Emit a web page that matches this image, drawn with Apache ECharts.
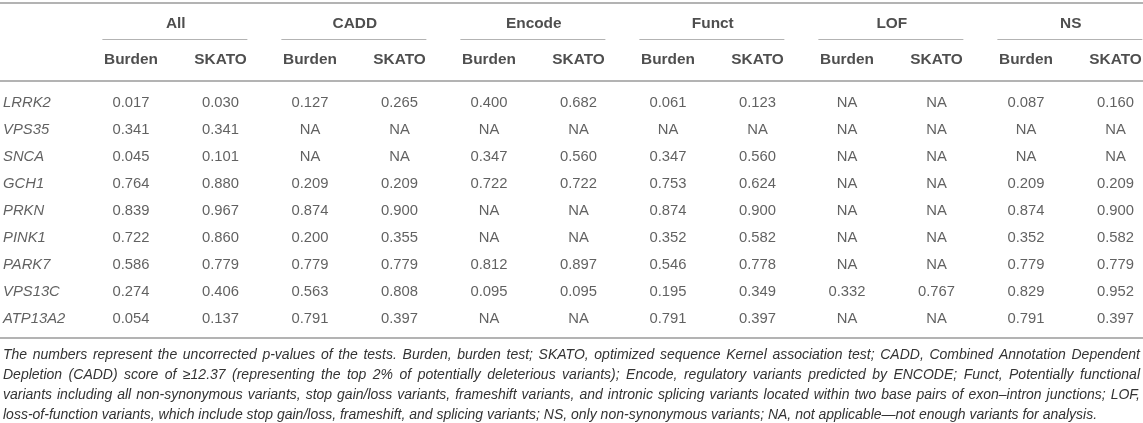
<!DOCTYPE html>
<html>
<head>
<meta charset="utf-8">
<script src="https://cdn.jsdelivr.net/npm/echarts@6/dist/echarts.min.js"></script>
<style>
    html, body { margin: 0; padding: 0; background: #fff; }
    #table { width: 1143px; height: 423px; }
</style>
</head>
<body>
<div id="table"></div>
<script>
// table content
const groups = ['All', 'CADD', 'Encode', 'Funct', 'LOF', 'NS'];
const tests = ['Burden', 'SKATO'];
const genes = ['LRRK2', 'VPS35', 'SNCA', 'GCH1', 'PRKN', 'PINK1', 'PARK7', 'VPS13C', 'ATP13A2'];

// p-values per gene, columns: All B/S, CADD B/S, Encode B/S, Funct B/S, LOF B/S, NS B/S (null = NA)
const LRRK2 = [0.017, 0.030, 0.127, 0.265, 0.400, 0.682, 0.061, 0.123, null, null, 0.087, 0.160];
const VPS35 = [0.341, 0.341, null, null, null, null, null, null, null, null, null, null];
const SNCA = [0.045, 0.101, null, null, 0.347, 0.560, 0.347, 0.560, null, null, null, null];
const GCH1 = [0.764, 0.880, 0.209, 0.209, 0.722, 0.722, 0.753, 0.624, null, null, 0.209, 0.209];
const PRKN = [0.839, 0.967, 0.874, 0.900, null, null, 0.874, 0.900, null, null, 0.874, 0.900];
const PINK1 = [0.722, 0.860, 0.200, 0.355, null, null, 0.352, 0.582, null, null, 0.352, 0.582];
const PARK7 = [0.586, 0.779, 0.779, 0.779, 0.812, 0.897, 0.546, 0.778, null, null, 0.779, 0.779];
const VPS13C = [0.274, 0.406, 0.563, 0.808, 0.095, 0.095, 0.195, 0.349, 0.332, 0.767, 0.829, 0.952];
const ATP13A2 = [0.054, 0.137, 0.791, 0.397, null, null, 0.791, 0.397, null, null, 0.791, 0.397];
const pValues = [LRRK2, VPS35, SNCA, GCH1, PRKN, PINK1, PARK7, VPS13C, ATP13A2];

const noteLines = [
    'The numbers represent the uncorrected p-values of the tests. Burden, burden test; SKATO, optimized sequence Kernel association test; CADD, Combined Annotation Dependent',
    'Depletion (CADD) score of \u226512.37 (representing the top 2% of potentially deleterious variants); Encode, regulatory variants predicted by ENCODE; Funct, Potentially functional',
    'variants including all non-synonymous variants, stop gain/loss variants, frameshift variants, and intronic splicing variants located within two base pairs of exon\u2013intron junctions; LOF,',
    'loss-of-function variants, which include stop gain/loss, frameshift, and splicing variants; NS, only non-synonymous variants; NA, not applicable\u2014not enough variants for analysis.'
];

// layout in axis units (x: one unit per test column, y: one unit per gene row)
const FONT = '"Liberation Sans", Arial, sans-serif';
const X_MIN = -1.464, X_MAX = 11.307;
const Y_MIN = -3.815, Y_MAX = 11.852;
const GENE_X = -1.43;
const ROW_GROUP = -2.93, ROW_TEST = -1.59;
const RULE_TOP = -3.70, RULE_HEAD = -0.815, RULE_LINE = -2.35, RULE_BOTTOM = 8.70;

function drawTable() {
    let chart = echarts.init(document.getElementById('table'));

    let cells = [];
    pValues.forEach((row, r) => {
        row.forEach((v, c) => {
            cells.push({value: [c, r], label: {formatter: v === null ? 'NA' : v.toFixed(3)}});
        });
    });
    let geneCells = genes.map((g, r) => ({value: [GENE_X, r], label: {formatter: g}}));
    let groupCells = groups.map((g, i) => ({value: [i * 2 + 0.5, ROW_GROUP], label: {formatter: g}}));
    let testCells = [];
    groups.forEach((g, i) => {
        tests.forEach((t, j) => {
            testCells.push({value: [i * 2 + j, ROW_TEST], label: {formatter: t}});
        });
    });

    let rules = [RULE_TOP, RULE_HEAD, RULE_BOTTOM].map(y => ({coords: [[X_MIN, y], [X_MAX, y]]}));
    let underlines = groups.map((g, i) => ({coords: [[i * 2 - 0.32, RULE_LINE], [i * 2 + 1.3, RULE_LINE]]}));

    let textSeries = (name, data, style) => ({
        name: name,
        type: 'scatter',
        symbolSize: 0,
        silent: true,
        data: data,
        label: Object.assign({
            show: true,
            position: 'inside',
            fontFamily: FONT,
            fontSize: 14.8,
            color: '#3a3a3a'
        }, style)
    });

    let option = {
        animation: false,
        grid: {left: 0, right: 0, top: 0, bottom: 0},
        xAxis: {type: 'value', min: X_MIN, max: X_MAX, show: false},
        yAxis: {type: 'value', min: Y_MIN, max: Y_MAX, inverse: true, show: false},
        series: [
            {
                type: 'lines',
                coordinateSystem: 'cartesian2d',
                silent: true,
                data: rules,
                lineStyle: {color: '#b3b3b3', width: 2, opacity: 1}
            },
            {
                type: 'lines',
                coordinateSystem: 'cartesian2d',
                silent: true,
                data: underlines,
                lineStyle: {color: '#b3b3b3', width: 1, opacity: 1}
            },
            textSeries('values', cells, {}),
            textSeries('genes', geneCells, {position: 'right', distance: 0, fontStyle: 'italic'}),
            textSeries('groups', groupCells, {fontWeight: 'bold', fontSize: 15.4, color: '#222'}),
            textSeries('tests', testCells, {fontWeight: 'bold', fontSize: 15.4, color: '#222'})
        ],
        graphic: justifiedNote()
    };
    chart.setOption(option);
}

// footnote is justified like the printed table, so words are placed one by one
function justifiedNote() {
    let font = 'italic 14px ' + FONT;
    let ctx = document.createElement('canvas').getContext('2d');
    ctx.font = font;
    let left = 3, right = 1140, top = 355, step = 20;
    let items = [];
    noteLines.forEach((line, i) => {
        let words = line.split(' ');
        let widths = words.map(w => ctx.measureText(w).width);
        let total = widths.reduce((a, b) => a + b, 0);
        let last = i === noteLines.length - 1;
        let gap = last ? ctx.measureText(' ').width : (right - left - total) / (words.length - 1);
        let x = left;
        words.forEach((w, k) => {
            items.push({
                type: 'text',
                x: x,
                y: top + i * step,
                silent: true,
                style: {text: w, font: font, fill: '#333', verticalAlign: 'middle'}
            });
            x += widths[k] + gap;
        });
    });
    return items;
}

drawTable();
</script>
</body>
</html>
